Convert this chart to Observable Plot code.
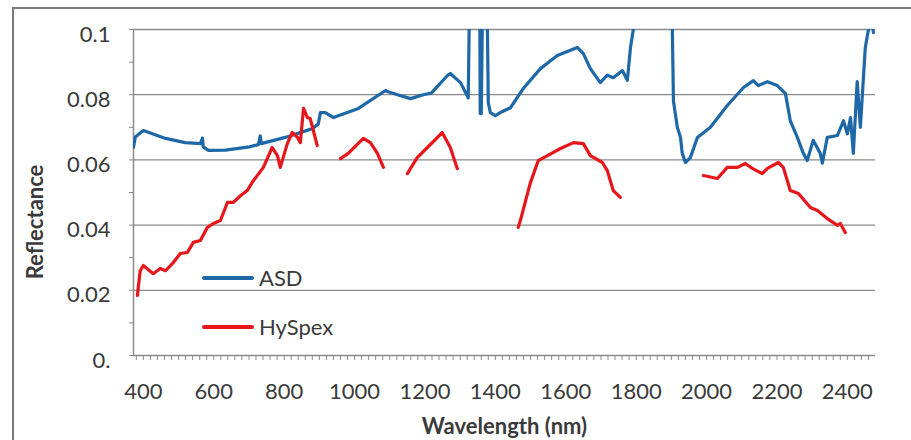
<!DOCTYPE html>
<html>
<head>
<meta charset="utf-8">
<script src="https://cdn.jsdelivr.net/npm/d3@7"></script>
<script src="https://cdn.jsdelivr.net/npm/@observablehq/plot@0.6"></script>
<style>
  html, body { margin: 0; padding: 0; background: #fff; }
  #wrap { position: relative; width: 911px; height: 440px; overflow: hidden; font-family: Lato, "Open Sans", sans-serif; }
  #border { position: absolute; left: 12px; top: 7px; width: 920px; height: 450px; border-top: 2px solid #7a7a7a; border-left: 2px solid #7a7a7a; }
  #chart { position: absolute; left: 0; top: 0; }
  .lg { position: absolute; display: flex; align-items: center; font-size: 22px; color: #3a3a3a; line-height: 22px; }
  .lg span.sw { display: inline-block; width: 52px; height: 3.5px; margin-right: 5px; border-radius: 2px; }
  #ylabel { position: absolute; left: 35px; top: 222px; transform: translate(-50%, -50%) rotate(-90deg); font-weight: bold; font-size: 22px; color: #3a3a3a; white-space: nowrap; line-height: 1; }
</style>
</head>
<body>
<div id="wrap">
  <div id="border"></div>
  <div id="chart"></div>
  <div id="legend"></div>
  <div id="ylabel">Reflectance</div>
</div>
<script>
// ---- data (wavelength in nm, reflectance) ----
const asdWavelength = [372,377,400,463,519,562,568,570,585,633,701,727,732,735,803,880,897,903,917,940,1011,1088,1093,1122,1159,1195,1218,1264,1272,1301,1320,1323,1329,1355,1357,1360,1366,1374,1380,1386,1400,1414,1423,1443,1480,1528,1576,1633,1650,1670,1698,1718,1735,1761,1775,1784,1792,1803,1850,1895,1900,1906,1917,1926,1931,1940,1954,1974,2011,2059,2105,2133,2147,2173,2201,2224,2238,2258,2275,2286,2303,2323,2329,2343,2372,2389,2400,2409,2417,2428,2437,2445,2451,2460,2468,2474];
const asdReflectance = [0.0638,0.067,0.069,0.0666,0.0653,0.065,0.0667,0.064,0.0629,0.063,0.064,0.0647,0.0674,0.065,0.0669,0.0696,0.071,0.0745,0.0745,0.073,0.0758,0.0813,0.081,0.080,0.0788,0.080,0.0805,0.0859,0.0865,0.0837,0.0797,0.079,0.13,0.13,0.0742,0.0742,0.13,0.13,0.0775,0.0745,0.0736,0.0745,0.075,0.076,0.082,0.088,0.092,0.0945,0.0926,0.088,0.0837,0.086,0.0852,0.0874,0.0844,0.0945,0.1,0.12,0.14,0.14,0.12,0.078,0.070,0.0669,0.062,0.0592,0.0607,0.0669,0.070,0.0767,0.0822,0.0843,0.0828,0.084,0.0828,0.0804,0.072,0.0669,0.062,0.0598,0.066,0.062,0.059,0.0669,0.0675,0.072,0.068,0.073,0.062,0.084,0.070,0.084,0.0945,0.1,0.11,0.099];

// HySpex: null marks a gap between bands
const hyspexWavelength = [383,391,400,428,448,463,485,505,525,542,562,582,599,619,639,656,676,695,713,741,766,781,789,809,823,838,846,855,866,874,894, null,
  960,982,1025,1045,1065,1082, null,
  1150,1178,1207,1249,1272,1292, null,
  1465,1471,1499,1522,1548,1585,1622,1650,1670,1704,1718,1735,1755, null,
  1991,2031,2059,2088,2110,2130,2158,2173,2204,2218,2238,2261,2295,2315,2343,2372,2380,2394];
const hyspexReflectance = [0.0184,0.026,0.0276,0.0251,0.0267,0.026,0.0285,0.0313,0.0316,0.0347,0.0353,0.0393,0.0405,0.0414,0.047,0.047,0.049,0.0506,0.0537,0.0577,0.0638,0.0613,0.0577,0.065,0.0684,0.0669,0.0653,0.0758,0.073,0.0727,0.0644, null,
  0.0604,0.062,0.0666,0.0653,0.062,0.0577, null,
  0.0558,0.0607,0.0638,0.0684,0.0638,0.0573, null,
  0.0393,0.0414,0.0528,0.0598,0.0613,0.0635,0.0653,0.065,0.0613,0.0592,0.0567,0.0506,0.0485, null,
  0.0552,0.0543,0.0577,0.0577,0.0589,0.0574,0.0558,0.0574,0.0592,0.0577,0.0506,0.0497,0.0454,0.0445,0.042,0.0399,0.0405,0.0377];

const xTickValues = [400,600,800,1000,1200,1400,1600,1800,2000,2200,2400];
const xMinorTicks = d3.range(380, 2480, 20);
const yTickValues = [0, 0.02, 0.04, 0.06, 0.08, 0.1];
const yTickLabels = ["0.", "0.02", "0.04", "0.06", "0.08", "0.1"];
const yMinorTicks = d3.range(0, 0.1001, 0.01);
const seriesNames = ["ASD", "HySpex"];
const seriesColors = ["#1f68a7", "#e6161b"];

const gridColor = "#8a8a8a";
const textColor = "#3a3a3a";

const asdIdx = d3.range(asdWavelength.length);
const hyIdx = d3.range(hyspexWavelength.length);

const plot = Plot.plot({
  width: 911,
  height: 440,
  marginLeft: 133,
  marginRight: 36,
  marginTop: 29,
  marginBottom: 85,
  style: { fontFamily: "Lato, 'Open Sans', sans-serif", fontSize: "22px", color: textColor, background: "transparent" },
  x: { domain: [372, 2480] },
  y: { domain: [0, 0.1] },
  marks: [
    Plot.ruleY(yTickValues.slice(1), { stroke: gridColor, strokeWidth: 1.3 }),
    Plot.ruleX([372], { stroke: gridColor, strokeWidth: 1.5 }),
    Plot.ruleY([0], { stroke: gridColor, strokeWidth: 1.5 }),
    Plot.axisY({ ticks: yMinorTicks, tickSize: 4, tickFormat: () => "", stroke: gridColor, label: null }),
    Plot.axisY({ ticks: yTickValues, tickSize: 0, tickPadding: 23, tickFormat: d => yTickLabels[yTickValues.indexOf(d)], fill: textColor, fontSize: 22, dy: 5, label: null }),
    Plot.axisX({ ticks: xMinorTicks, tickSize: 5, tickFormat: () => "", stroke: gridColor, label: null }),
    Plot.axisX({ ticks: xTickValues, tickSize: 0, tickPadding: 28, tickFormat: d => String(d), fill: textColor, fontSize: 22, label: null }),
    Plot.line(asdIdx, { x: i => asdWavelength[i], y: i => asdReflectance[i], stroke: seriesColors[0], strokeWidth: 3.2, clip: true }),
    Plot.line(hyIdx, { x: i => hyspexWavelength[i], y: i => hyspexReflectance[i], stroke: seriesColors[1], strokeWidth: 3.2, clip: true }),
    Plot.text(["Wavelength (nm)"], { frameAnchor: "bottom", dy: 78, fontWeight: "bold", fontSize: 22, fill: textColor })
  ]
});
document.getElementById("chart").appendChild(plot);

// legend (HTML overlay inside plot area)
const legend = document.getElementById("legend");
const legendTops = [267, 316];
seriesNames.forEach((name, k) => {
  const row = document.createElement("div");
  row.className = "lg";
  row.style.left = "202px";
  row.style.top = legendTops[k] + "px";
  row.innerHTML = `<span class="sw" style="background:${seriesColors[k]}"></span><span>${name}</span>`;
  legend.appendChild(row);
});
</script>
</body>
</html>
